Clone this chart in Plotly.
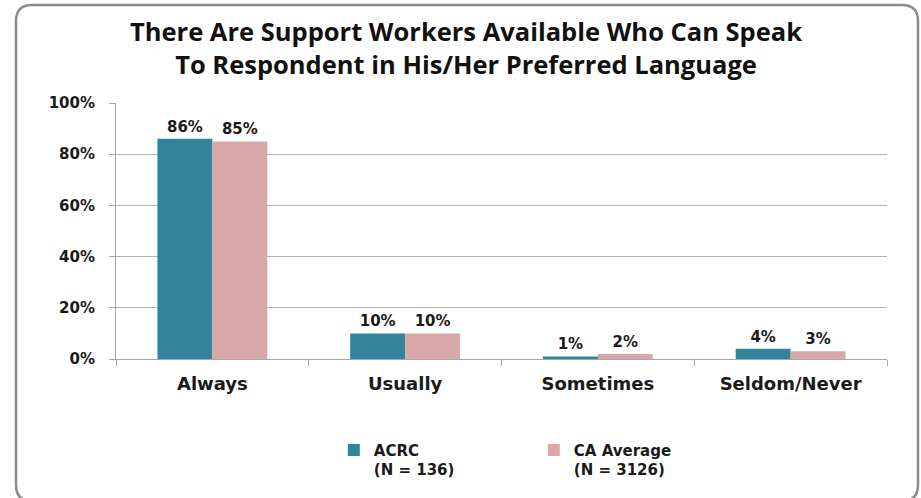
import plotly.graph_objects as go

categories = ["Always", "Usually", "Sometimes", "Seldom/Never"]
acrc = [86, 10, 1, 4]
ca_avg = [85, 10, 2, 3]
acrc_name = "ACRC<br>(N = 136)"
ca_name = "CA Average<br>(N = 3126)"
y_ticks = [0, 20, 40, 60, 80, 100]
y_ticktext = ["0%", "20%", "40%", "60%", "80%", "100%"]

W, H = 921, 498
L, R, T, B = 116, 34, 103, 139
pw, ph = W - L - R, H - T - B

def px(x):
    return (x - L) / pw

def py(y):
    return (H - B - y) / ph

lab_font = dict(family="DejaVu Sans", size=15, color="#1a1a1a")

fig = go.Figure()
fig.add_trace(go.Bar(
    x=categories, y=acrc, name=acrc_name,
    marker=dict(color="#31849b", line=dict(width=0)),
    text=[f"<b>{v}%</b>" for v in acrc], textposition="outside",
    textfont=lab_font, cliponaxis=False,
))
fig.add_trace(go.Bar(
    x=categories, y=ca_avg, name=ca_name,
    marker=dict(color="#d9a7a8", line=dict(width=0)),
    text=[f"<b>{v}%</b>" for v in ca_avg], textposition="outside",
    textfont=lab_font, cliponaxis=False,
))

# rounded border frame
x0, x1, y0, y1, r = 16, 918, 5, 501, 16
def P(x, y):
    return f"{px(x):.5f},{py(y):.5f}"
path = (f"M{P(x0 + r, y0)} L{P(x1 - r, y0)} Q{P(x1, y0)} {P(x1, y0 + r)} "
        f"L{P(x1, y1 - r)} Q{P(x1, y1)} {P(x1 - r, y1)} "
        f"L{P(x0 + r, y1)} Q{P(x0, y1)} {P(x0, y1 - r)} "
        f"L{P(x0, y0 + r)} Q{P(x0, y0)} {P(x0 + r, y0)} Z")

fig.update_layout(
    width=W, height=H,
    margin=dict(l=L, r=R, t=T, b=B, autoexpand=False),
    paper_bgcolor="white", plot_bgcolor="white",
    barmode="group", bargap=0.43, bargroupgap=0,
    title=dict(
        text="<b>There Are Support Workers Available Who Can Speak<br>To Respondent in His/Her Preferred Language</b>",
        x=0.506, xanchor="center", y=0.918, yanchor="top",
        font=dict(family="Open Sans", size=25.5, color="#111"),
    ),
    xaxis=dict(
        showline=True, linecolor="#a6a6a6", linewidth=1,
        ticks="outside", tickson="boundaries", ticklen=6, tickcolor="#a6a6a6",
        tickfont=dict(family="DejaVu Sans", size=18, color="#1a1a1a"),
        tickprefix="<b>", ticksuffix="</b>",
        ticklabelstandoff=8,
    ),
    yaxis=dict(
        range=[0, 100], tickvals=y_ticks,
        ticktext=[f"<b>{t}</b>" for t in y_ticktext],
        showline=True, linecolor="#a6a6a6", linewidth=1,
        ticks="outside", ticklen=6, tickcolor="#a6a6a6",
        showgrid=True, gridcolor="#b3b3b3", gridwidth=1,
        zeroline=False,
        tickfont=dict(family="DejaVu Sans", size=15, color="#1a1a1a"),
        ticklabelstandoff=11,
    ),
    legend=dict(
        orientation="h", x=0.2825, xanchor="left", y=-0.292, yanchor="top",
        entrywidth=155, entrywidthmode="pixels",
        valign="top", traceorder="normal",
        bgcolor="rgba(0,0,0,0)",
        font=dict(family="DejaVu Sans", size=15, color="#1a1a1a"),
        itemwidth=30,
    ),
    showlegend=True,
    shapes=[dict(type="path", xref="paper", yref="paper", path=path,
                 line=dict(color="#8c8c8c", width=2.5), layer="below")],
)
fig.for_each_trace(lambda t: t.update(name=f"<b>{t.name}</b>".replace("<br>", "</b><br><b>")))
fig.write_html("out.html", config={"displayModeBar": False},
               post_script="document.body.style.margin='0';document.body.style.overflow='hidden';")
